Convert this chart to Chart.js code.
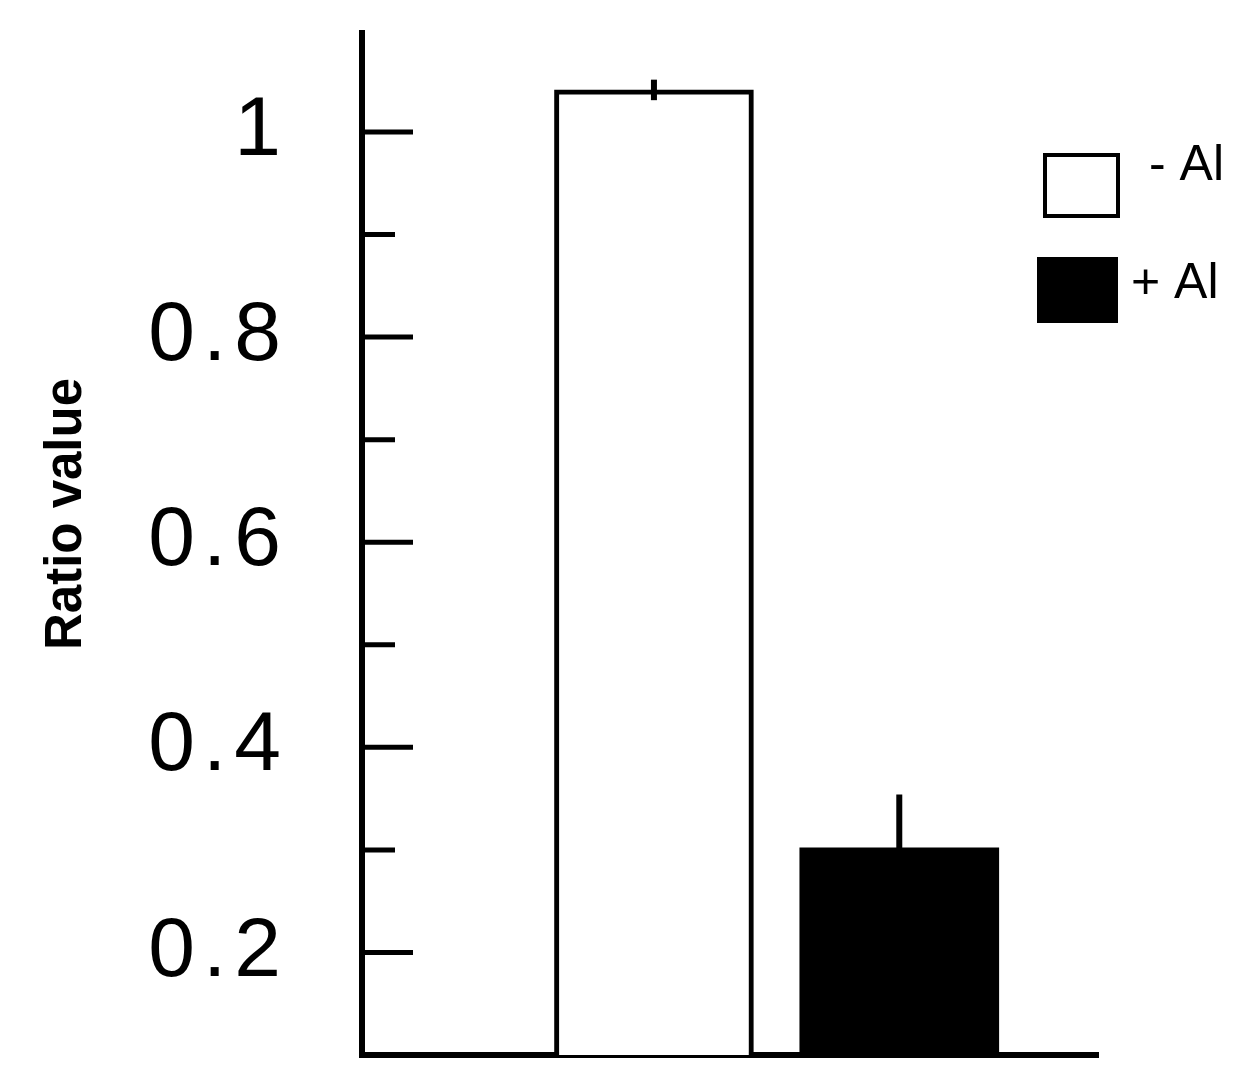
<!DOCTYPE html>
<html>
<head>
<meta charset="utf-8">
<title>Ratio value</title>
<script src="https://cdn.jsdelivr.net/npm/chart.js@4.4.1/dist/chart.umd.min.js"></script>
<style>
    html, body { margin: 0; padding: 0; background: #ffffff; }
    #wrap { width: 1260px; height: 1091px; position: relative; }
</style>
</head>
<body>
<div id="wrap"><canvas id="ratioChart"></canvas></div>
<script>
// Data
const categories = ["- Al", "+ Al"];
const ratioValues = [1.041, 0.302];
const ratioErrors = [0.010, 0.052];
const barColors = ["#ffffff", "#000000"];
const yTickValues = [0.2, 0.4, 0.6, 0.8, 1.0];
const yTickLabels = ["0.2", "0.4", "0.6", "0.8", "1"];
const yTitle = "Ratio value";

const FONT = "'Liberation Sans', Arial, Helvetica, sans-serif";

function labelFor(value) {
    for (let i = 0; i < yTickValues.length; i++) {
        if (Math.abs(value - yTickValues[i]) < 1e-6) return yTickLabels[i];
    }
    return "";
}

// error bars, inward tick marks, axis title and legend
const extrasPlugin = {
    id: "extras",
    beforeDraw(chart) {
        chart.ctx.letterSpacing = "8px";
    },
    afterDatasetsDraw(chart) {
        const ctx = chart.ctx;
        const y = chart.scales.y;
        const meta = chart.getDatasetMeta(0);
        ctx.save();
        ctx.strokeStyle = "#000";
        ctx.lineWidth = 6;
        meta.data.forEach((bar, i) => {
            ctx.beginPath();
            ctx.moveTo(bar.x, y.getPixelForValue(ratioValues[i] + ratioErrors[i]));
            ctx.lineTo(bar.x, y.getPixelForValue(ratioValues[i] - ratioErrors[i]));
            ctx.stroke();
        });
        ctx.restore();
    },
    afterDraw(chart) {
        const ctx = chart.ctx;
        const y = chart.scales.y;
        const left = chart.chartArea.left;
        ctx.save();
        ctx.letterSpacing = "0px";

        // tick marks pointing into the plot
        ctx.strokeStyle = "#000";
        ctx.lineWidth = 5;
        y.ticks.forEach(t => {
            if (t.value < 0.15 || t.value > 1.05) return;
            const py = y.getPixelForValue(t.value);
            const len = labelFor(t.value) ? 51 : 33;
            ctx.beginPath();
            ctx.moveTo(left, py);
            ctx.lineTo(left + len, py);
            ctx.stroke();
        });

        // rotated y title
        ctx.save();
        ctx.translate(81, 514);
        ctx.rotate(-Math.PI / 2);
        ctx.fillStyle = "#000";
        ctx.font = "bold 51px " + FONT;
        ctx.textAlign = "center";
        ctx.textBaseline = "alphabetic";
        ctx.fillText(yTitle, 0, 0);
        ctx.restore();

        // legend
        ctx.font = "50px " + FONT;
        ctx.textAlign = "left";
        ctx.textBaseline = "alphabetic";
        ctx.lineWidth = 4;
        ctx.strokeStyle = "#000";
        ctx.fillStyle = barColors[0];
        ctx.fillRect(1045, 155, 73, 61);
        ctx.strokeRect(1045, 155, 73, 61);
        ctx.fillStyle = "#000";
        ctx.fillText(categories[0], 1149, 180);
        ctx.fillStyle = barColors[1];
        ctx.fillRect(1037, 257, 81, 66);
        ctx.fillStyle = "#000";
        ctx.fillText(categories[1], 1131, 298);

        ctx.restore();
    }
};

const ctx = document.getElementById("ratioChart").getContext("2d");

new Chart(ctx, {
    type: "bar",
    data: {
        datasets: [{
            label: yTitle,
            data: ratioValues.map((v, i) => ({ x: i, y: v })),
            backgroundColor: barColors,
            borderColor: "#000000",
            borderWidth: [5, 0],
            borderSkipped: "start",
            barThickness: 199
        }]
    },
    options: {
        responsive: true,
        maintainAspectRatio: false,
        animation: false,
        layout: { padding: { left: 0, right: 162, top: 33, bottom: 36 } },
        plugins: {
            legend: { display: false },
            tooltip: { enabled: false }
        },
        scales: {
            x: {
                type: "linear",
                offset: false,
                min: -1.19,
                max: 1.81,
                grid: { display: false, drawTicks: false, offset: false },
                ticks: { display: false },
                border: { display: true, color: "#000", width: 6 },
                afterFit: s => { s.height = 0; s.paddingLeft = 0; s.paddingRight = 0; }
            },
            y: {
                min: 0.1,
                max: 1.0965,
                grid: { display: false, drawTicks: false },
                border: { display: true, color: "#000", width: 6 },
                ticks: {
                    stepSize: 0.1,
                    autoSkip: false,
                    padding: 73,
                    color: "#000",
                    font: { family: FONT, size: 84 },
                    callback: value => labelFor(value)
                },
                afterFit: s => { s.width = 362; s.paddingTop = 0; s.paddingBottom = 0; }
            }
        }
    },
    plugins: [extrasPlugin]
});
</script>
</body>
</html>
